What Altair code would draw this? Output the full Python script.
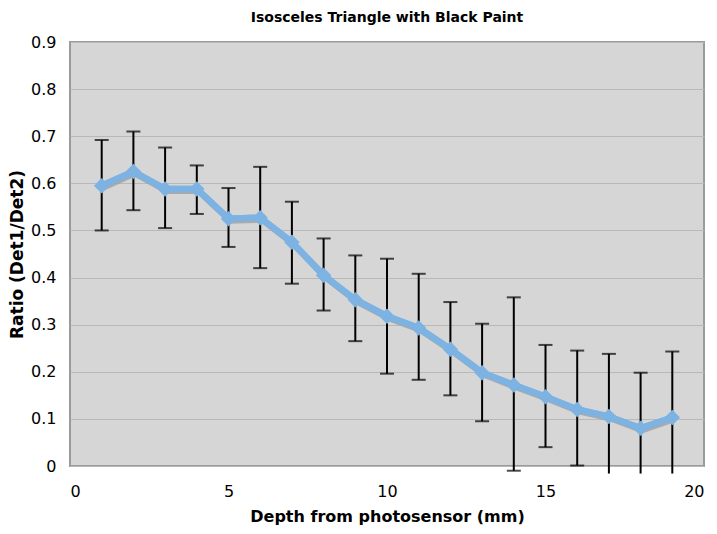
import altair as alt
import pandas as pd

depth = list(range(1, 20))
ratio = [0.595, 0.625, 0.588, 0.588, 0.525, 0.527, 0.475, 0.405, 0.353, 0.318,
         0.293, 0.248, 0.198, 0.172, 0.147, 0.120, 0.105, 0.080, 0.103]
upper = [0.692, 0.710, 0.676, 0.638, 0.590, 0.635, 0.561, 0.483, 0.447, 0.440,
         0.408, 0.348, 0.302, 0.358, 0.257, 0.245, 0.238, 0.198, 0.243]
lower = [0.500, 0.543, 0.505, 0.535, 0.465, 0.420, 0.387, 0.330, 0.265, 0.196,
         0.183, 0.150, 0.095, -0.010, 0.040, 0.001, -0.016, -0.016, -0.016]
lower_cap = [True] * 16 + [False, False, False]

df = pd.DataFrame({"depth": depth, "ratio": ratio, "upper": upper,
                   "lower": lower, "lowcap": lower_cap})

FONT = "DejaVu Sans"
xs = alt.Scale(domain=[0, 20], nice=False)
ys = alt.Scale(domain=[0, 0.9], nice=False)

x = alt.X("depth:Q", scale=xs, axis=alt.Axis(
    values=[0, 5, 10, 15, 20], title="Depth from photosensor (mm)",
    grid=False, ticks=False, domain=False, labelPadding=17,
    labelFontSize=16, labelColor="#000", labelFont=FONT,
    titleFont=FONT, titleFontSize=16, titleFontWeight="bold",
    titleColor="#000", titlePadding=9))
y = alt.Y("ratio:Q", scale=ys, axis=alt.Axis(
    values=[0, 0.1, 0.2, 0.3, 0.4, 0.5, 0.6, 0.7, 0.8, 0.9], format=".1~f",
    title="Ratio (Det1/Det2)", grid=True, gridColor="#b8b8b8", gridWidth=1,
    ticks=False, domain=False, labelPadding=14,
    labelFontSize=16, labelColor="#000", labelFont=FONT,
    titleFont=FONT, titleFontSize=17, titleFontWeight="bold",
    titleColor="#000", titlePadding=4))

base = alt.Chart(df)

bars = base.mark_rule(color="#000", strokeWidth=2, clip=False).encode(
    x=alt.X("depth:Q", scale=xs), y=alt.Y("lower:Q", scale=ys), y2="upper:Q")
capsU = base.mark_tick(color="#000", orient="horizontal", size=14,
                       thickness=2).encode(
    x=alt.X("depth:Q", scale=xs), y=alt.Y("upper:Q", scale=ys))
capsL = base.transform_filter("datum.lowcap").mark_tick(
    color="#000", orient="horizontal", size=14, thickness=2, clip=False).encode(
    x=alt.X("depth:Q", scale=xs), y=alt.Y("lower:Q", scale=ys))

shadow = base.mark_line(color="#a0a0a0", strokeWidth=6, xOffset=1.5,
                        yOffset=2, opacity=0.8).encode(
    x=alt.X("depth:Q", scale=xs), y=alt.Y("ratio:Q", scale=ys))
line = base.mark_line(color="#7db3e3", strokeWidth=6.5).encode(x=x, y=y)
pts = base.mark_point(shape="diamond", filled=True, size=240,
                      color="#7db3e3", opacity=1).encode(
    x=alt.X("depth:Q", scale=xs), y=alt.Y("ratio:Q", scale=ys))

chart = alt.layer(line, shadow, line, bars, capsU, capsL, pts).properties(
    width=634, height=424,
    title=alt.TitleParams("Isosceles Triangle with Black Paint", font=FONT,
                          fontSize=14, fontWeight="bold", color="#000",
                          offset=9),
    autosize=alt.AutoSizeParams(type="none"),
    padding={"left": 62, "top": 34, "right": 5, "bottom": 60},
).configure_view(fill="#d6d6d6", stroke="#9a9a9a", strokeWidth=2)

chart.save("out.html", embed_options={"renderer": "svg", "actions": False})
